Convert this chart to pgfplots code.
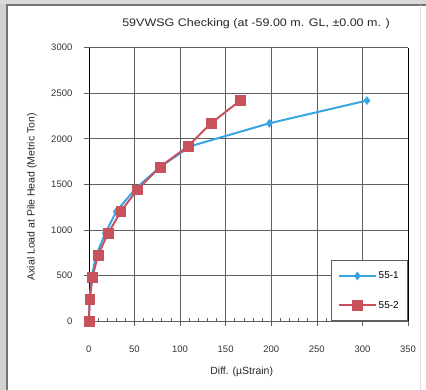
\documentclass[border=0pt]{standalone}
\usepackage{fontspec}
\setmainfont{Liberation Sans}
\usepackage{graphicx}
\usepackage{pgfplots}
\pgfplotsset{compat=1.18}
\definecolor{sblue}{RGB}{55,165,225}
\definecolor{sred}{RGB}{200,82,92}
\definecolor{gridc}{RGB}{95,95,95}
\begin{document}
\begin{tikzpicture}
\begin{axis}[
  name=ax,
  scale only axis,
  width=319bp, height=273bp,
  xmin=0, xmax=350, ymin=0, ymax=3000,
  xtick={0,50,...,350}, ytick={0,500,...,3000},
  minor x tick num=4,
  grid=major,
  major grid style={gridc, line width=0.6pt},
  tick align=outside,
  major tick length=5bp,
  minor tick length=3bp,
  minor x tick style={yshift=3bp, gridc},
  xtick pos=bottom, ytick pos=left,
  separate axis lines,
  x axis line style={gridc, line width=0.6pt},
  y axis line style={black, line width=0.6pt},
  tick style={gridc, line width=0.6pt},
  ticklabel style={font=\fontsize{9.5}{10}\selectfont, text=black!80},
  /pgf/number format/assume math mode=true,
  /pgf/number format/1000 sep={},
  xticklabel shift=17bp,
  yticklabel shift=8bp,
  title={\scalebox{1.14}[1]{59VWSG Checking (at -59.00 m. GL, ±0.00 m. )}},
  title style={at={(axis description cs:0.524,1.066)}, anchor=center, font=\fontsize{11}{12}\selectfont, text=black!85},
  xlabel={Diff. (µStrain)},
  ylabel={Axial Load at Pile Head (Metric Ton)},
  every axis x label/.style={at={(axis description cs:0.479,-0.186)}, anchor=center, font=\fontsize{10.5}{11}\selectfont, text=black!85},
  every axis y label/.style={at={(axis description cs:-0.178,0.454)}, anchor=center, rotate=90, font=\fontsize{10.5}{11}\selectfont, text=black!85},
  clip=false,
  legend style={at={(rel axis cs:1,0)}, anchor=south east, draw=gridc, line width=0.6pt, font=\fontsize{10}{11}\selectfont, fill=white, row sep=17bp, inner ysep=9bp, inner xsep=7bp, legend cell align=left},
  legend image code/.code={\draw[#1, mark repeat=2, mark phase=2] plot coordinates {(0cm,0cm) (0.65cm,0cm) (1.3cm,0cm)};},
]
\addplot[sblue, line width=2pt, mark=diamond*, mark size=4pt, mark options={solid, fill=sblue, line width=0.5pt}] coordinates {
(0,0) (1,240) (3,480) (8,720) (18,960) (30,1200) (51,1450) (78,1690) (112,1920) (198,2170) (305,2420)
};
\addlegendentry{55-1}
\addplot[sred, line width=2pt, mark=square*, mark size=5pt, mark options={solid, fill=sred, line width=0.5pt}] coordinates {
(0,0) (1,240) (4,480) (10,720) (21,960) (35,1200) (53,1440) (78,1690) (109,1920) (134,2170) (166,2420)
};
\addlegendentry{55-2}
\end{axis}
\coordinate (BL) at ([shift={(-88.8bp,-69bp)}]ax.south west);
\coordinate (TR) at ([shift={(18bp,47.7bp)}]ax.north east);
\path[use as bounding box] (BL) rectangle (TR);
\fill[black!18] (BL|-TR) ++(0,-390bp) rectangle ++(6bp,390bp);
\fill[black!15] (BL|-TR) rectangle ++(426bp,-4bp);
\draw[black!55, line width=1.2pt] ([shift={(7bp,0)}]BL) -- ([shift={(7bp,-5bp)}]BL|-TR) -- ([shift={(0,-5bp)}]TR);
\draw[black!12, line width=0.6pt] ([shift={(-6bp,0)}]TR|-BL) -- ([shift={(-6bp,-5bp)}]TR);
\end{tikzpicture}
\end{document}
